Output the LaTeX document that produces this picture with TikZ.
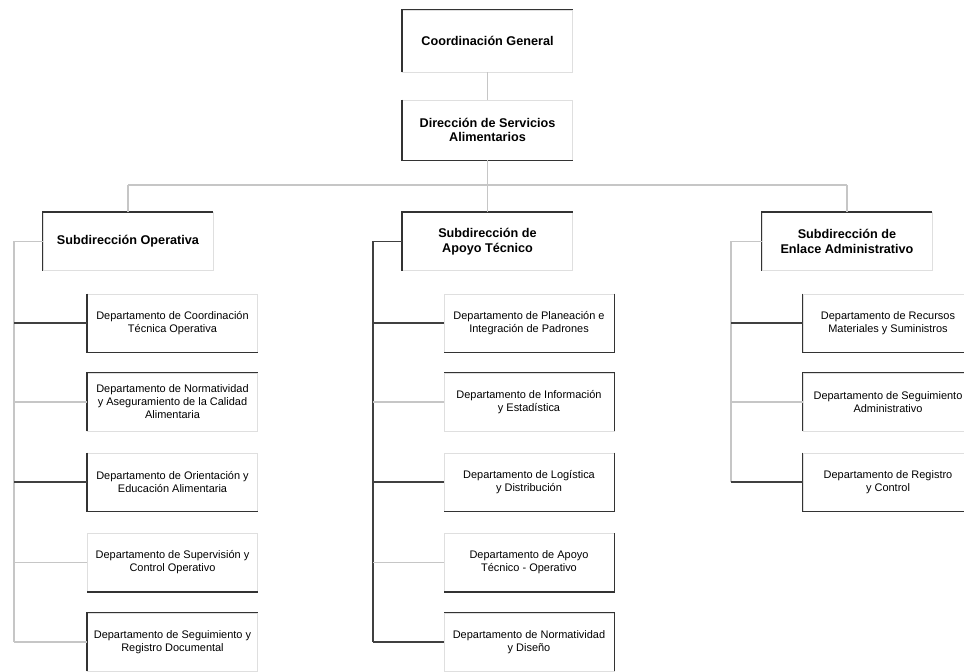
\documentclass[tikz,border=0pt]{standalone}
\usepackage{fontspec}
\setmainfont{Liberation Sans}
\usepackage{tikz}
\usetikzlibrary{calc}

\tikzset{
  unitbox/.style={draw=gray!25, line width=0.5pt, fill=white, minimum width=4.25cm,
    minimum height=1.45cm, align=center, inner sep=2pt,
    font=\fontsize{9}{10.5}\selectfont\bfseries},
  deptbox/.style={unitbox, font=\fontsize{7.8}{9.2}\selectfont},
  rim/.style={black!80, line width=1.1pt},
  link/.style={gray!45, line width=0.8pt},
  linkdark/.style={black!75, line width=0.9pt}
}

\begin{document}
\begin{tikzpicture}[x=0.025cm, y=-0.025cm]
\useasboundingbox (0,0) rectangle (964,671);

% top of the chart
\node[unitbox, minimum height=1.55cm] (coord) at (487.5,41) {Coordinación General};
\node[unitbox, minimum height=1.5cm] (dir) at (487.5,130) {Dirección de Servicios\\Alimentarios};

% subdirecciones
\node[unitbox] (subop) at (128,241.5) {Subdirección Operativa};
\node[unitbox] (subap) at (487.5,241.5) {Subdirección de\\Apoyo Técnico};
\node[unitbox] (suben) at (847,241.5) {Subdirección de\\Enlace Administrativo};

% departamentos, left column
\node[deptbox] (lo1) at (172.5,323) {Departamento de Coordinación\\Técnica Operativa};
\node[deptbox] (lo2) at (172.5,402) {Departamento de Normatividad\\y Aseguramiento de la Calidad\\Alimentaria};
\node[deptbox] (lo3) at (172.5,482) {Departamento de Orientación y\\Educación Alimentaria};
\node[deptbox] (lo4) at (172.5,562.5) {Departamento de Supervisión y\\Control Operativo};
\node[deptbox] (lo5) at (172.5,642) {Departamento de Seguimiento y\\Registro Documental};

% departamentos, middle column
\node[deptbox] (ap1) at (529,323) {Departamento de Planeación e\\Integración de Padrones};
\node[deptbox] (ap2) at (529,402) {Departamento de Información\\y Estadística};
\node[deptbox] (ap3) at (529,482) {Departamento de Logística\\y Distribución};
\node[deptbox] (ap4) at (529,562.5) {Departamento de Apoyo\\Técnico - Operativo};
\node[deptbox] (ap5) at (529,642) {Departamento de Normatividad\\y Diseño};

% departamentos, right column
\node[deptbox] (en1) at (888,323) {Departamento de Recursos\\Materiales y Suministros};
\node[deptbox] (en2) at (888,402) {Departamento de Seguimiento\\Administrativo};
\node[deptbox] (en3) at (888,482) {Departamento de Registro\\y Control};

% dark box edges
\draw[rim] (coord.south west) -- (coord.north west) -- (coord.north east);
\draw[rim] (dir.north west) -- (dir.south west) -- (dir.south east);
\draw[rim] (subop.south west) -- (subop.north west) -- (subop.north east);
\draw[rim] (subap.south west) -- (subap.north west) -- (subap.north east);
\draw[rim] (suben.south west) -- (suben.north west) -- (suben.north east);
\draw[rim] (lo1.north west) -- (lo1.south west) -- (lo1.south east);
\draw[rim] (lo2.south west) -- (lo2.north west) -- (lo2.north east);
\draw[rim] (lo3.north west) -- (lo3.south west) -- (lo3.south east);
\draw[rim] (lo4.south west) -- (lo4.south east);
\draw[rim] (lo5.south west) -- (lo5.north west) -- (lo5.north east);
\draw[rim] (ap1.north east) -- (ap1.south east) -- (ap1.south west);
\draw[rim] (ap2.south east) -- (ap2.north east) -- (ap2.north west);
\draw[rim] (ap3.north east) -- (ap3.south east) -- (ap3.south west);
\draw[rim] (ap4.north east) -- (ap4.south east) -- (ap4.south west);
\draw[rim] (ap5.south east) -- (ap5.north east) -- (ap5.north west);
\draw[rim] (en1.north west) -- (en1.south west) -- (en1.south east);
\draw[rim] (en2.south west) -- (en2.north west) -- (en2.north east);
\draw[rim] (en3.north west) -- (en3.south west) -- (en3.south east);

% main line and bus
\coordinate (busL) at (128,185);
\coordinate (busM) at (487.5,185);
\coordinate (busR) at (847,185);
\draw[link] (coord.south) -- (dir.north);
\draw[link] (dir.south) -- (busM);
\draw[link] (busL) -- (busR);
\draw[link] (busL) -- (subop.north);
\draw[link] (busM) -- (subap.north);
\draw[link] (busR) -- (suben.north);

% trunks
\coordinate (tl) at (14,0);
\coordinate (tm) at (373,0);
\coordinate (tr) at (731,0);
\draw[link] (subop.west) -- (tl |- subop.west) -- (tl |- lo5.west);
\draw[linkdark] (subap.west) -- (tm |- subap.west) -- (tm |- ap5.west);
\draw[link] (suben.west) -- (tr |- suben.west) -- (tr |- en3.west);

% branches
\draw[linkdark] (tl |- lo1.west) -- (lo1.west);
\draw[link] (tl |- lo2.west) -- (lo2.west);
\draw[linkdark] (tl |- lo3.west) -- (lo3.west);
\draw[link] (tl |- lo4.west) -- (lo4.west);
\draw[link] (tl |- lo5.west) -- (lo5.west);
\draw[linkdark] (tm |- ap1.west) -- (ap1.west);
\draw[link] (tm |- ap2.west) -- (ap2.west);
\draw[linkdark] (tm |- ap3.west) -- (ap3.west);
\draw[link] (tm |- ap4.west) -- (ap4.west);
\draw[linkdark] (tm |- ap5.west) -- (ap5.west);
\draw[linkdark] (tr |- en1.west) -- (en1.west);
\draw[link] (tr |- en2.west) -- (en2.west);
\draw[linkdark] (tr |- en3.west) -- (en3.west);

\end{tikzpicture}
\end{document}
